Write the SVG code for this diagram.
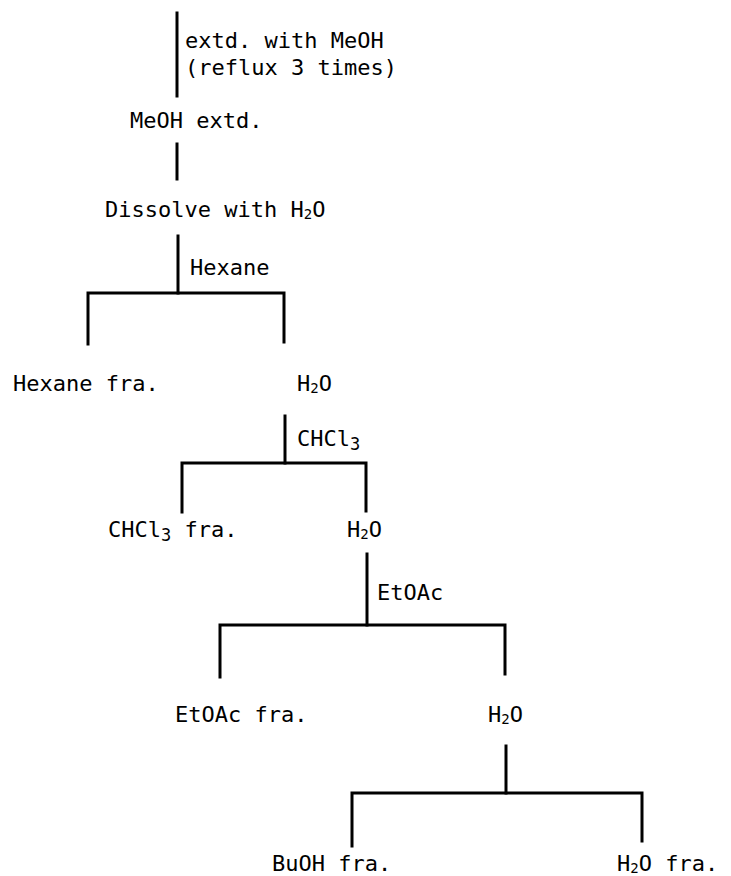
<svg xmlns="http://www.w3.org/2000/svg" width="731" height="876" viewBox="0 0 731 876">
  <style>
    text { font-family: "DejaVu Sans Mono", "Liberation Mono", monospace; font-size: 22px; fill: #000; }
    .sub { font-size: 14px; }
    .sub3 { font-size: 17px; }
    .wire { stroke: #000; stroke-width: 3; fill: none; stroke-linecap: square; stroke-linejoin: miter; }
  </style>
  <rect width="731" height="876" fill="#fff"/>

  <!-- connectors: vertical steps and branching brackets -->
  <g id="connectors" class="wire">
    <path d="M177 13 V96"/>
    <path d="M177 144 V179"/>
    <path d="M178 236 V293"/>
    <path d="M88 344 V293 H284 V342"/>
    <path d="M285 416 V463"/>
    <path d="M182 512 V463 H366 V511"/>
    <path d="M367 554 V625"/>
    <path d="M220 677 V625 H505 V674"/>
    <path d="M506 746 V793"/>
    <path d="M352 846 V793 H642 V841"/>
  </g>

  <!-- step labels next to the vertical lines -->
  <g id="step-meoh">
    <text x="185" y="48">extd. with MeOH</text>
    <text x="185" y="75">(reflux 3 times)</text>
  </g>
  <g id="node-meoh-extd"><text x="130" y="128">MeOH extd.</text></g>
  <g id="node-dissolve"><text x="105" y="217">Dissolve with H<tspan class="sub" dy="2">2</tspan><tspan dy="-2">O</tspan></text></g>
  <g id="step-hexane"><text x="190" y="275">Hexane</text></g>

  <g id="node-hexane-fra"><text x="13" y="391">Hexane fra.</text></g>
  <g id="node-h2o-1"><text x="297" y="391">H<tspan class="sub" dy="2">2</tspan><tspan dy="-2">O</tspan></text></g>
  <g id="step-chcl3"><text x="297" y="446">CHCl<tspan class="sub3" dy="4">3</tspan></text></g>

  <g id="node-chcl3-fra"><text x="108" y="537">CHCl<tspan class="sub3" dy="4">3</tspan><tspan dy="-4"> fra.</tspan></text></g>
  <g id="node-h2o-2"><text x="347" y="537">H<tspan class="sub" dy="2">2</tspan><tspan dy="-2">O</tspan></text></g>
  <g id="step-etoac"><text x="377" y="600">EtOAc</text></g>

  <g id="node-etoac-fra"><text x="175" y="722">EtOAc fra.</text></g>
  <g id="node-h2o-3"><text x="488" y="722">H<tspan class="sub" dy="2">2</tspan><tspan dy="-2">O</tspan></text></g>

  <g id="node-buoh-fra"><text x="272" y="871">BuOH fra.</text></g>
  <g id="node-h2o-fra"><text x="617" y="871">H<tspan class="sub" dy="2">2</tspan><tspan dy="-2">O fra.</tspan></text></g>
</svg>
